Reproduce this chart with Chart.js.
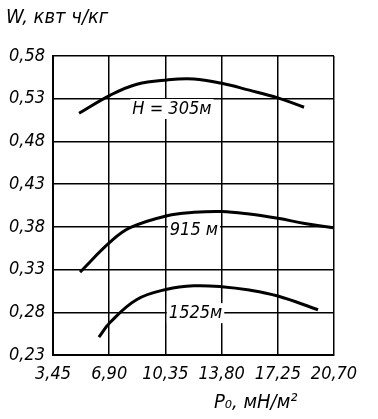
<!DOCTYPE html>
<html>
<head>
<meta charset="utf-8">
<script src="https://cdn.jsdelivr.net/npm/chart.js@4"></script>
<style>
	html, body { margin: 0; padding: 0; background: #fff; }
	#chart { display: block; }
</style>
</head>
<body>
<canvas id="chart" width="378" height="419"></canvas>
<script>
(() => {
	'use strict'

	// Tick labels
	const xTicks = [3.45, 6.90, 10.35, 13.80, 17.25, 20.70];
	const yTicks = [0.23, 0.28, 0.33, 0.38, 0.43, 0.48, 0.53, 0.58];

	// Curve H = 305 m
	const x305 = [5.05, 6.95, 8.6, 10.45, 12.1, 13.8, 15.5, 17.25, 18.86];
	const y305 = [0.513, 0.534, 0.547, 0.552, 0.553, 0.548, 0.540, 0.531, 0.520];

	// Curve 915 m
	const x915 = [5.11, 6.95, 8.18, 10.45, 12.1, 13.8, 15.5, 17.25, 18.9, 20.64];
	const y915 = [0.327, 0.362, 0.379, 0.393, 0.397, 0.398, 0.395, 0.390, 0.384, 0.379];

	// Curve 1525 m
	const x1525 = [6.27, 6.95, 8.6, 10.45, 12.1, 13.8, 15.5, 17.25, 19.72];
	const y1525 = [0.251, 0.268, 0.295, 0.307, 0.311, 0.310, 0.306, 0.299, 0.283];

	// Curve labels
	const curveLabels = ['H = 305м', '915 м', '1525м'];
	const labelX = [10.75, 12.1, 12.2];
	const labelY = [0.518, 0.376, 0.279];

	const fontFamily = '"DejaVu Sans Condensed", "DejaVu Sans", sans-serif';

	// Helper to zip x and y arrays into points
	function toPoints(xs, ys) {
		return xs.map((x, i) => ({ x: x, y: ys[i] }));
	}

	// Helper to print numbers with a decimal comma
	function comma(value) {
		return value.toFixed(2).replace('.', ',');
	}

	function lineSet(xs, ys) {
		return {
			data: toPoints(xs, ys),
			borderColor: '#000',
			borderWidth: 3,
			pointRadius: 0,
			fill: false,
			tension: 0.4,
		};
	}

	// Draws the axis titles and the labels on the curves
	const textPlugin = {
		id: 'texts',
		afterDatasetsDraw(chart) {
			const ctx = chart.ctx;
			const xs = chart.scales.x;
			const ys = chart.scales.y;
			ctx.save();
			ctx.fillStyle = '#000';
			ctx.textBaseline = 'middle';
			ctx.font = 'italic 18px ' + fontFamily;
			curveLabels.forEach((text, i) => {
				const px = xs.getPixelForValue(labelX[i]);
				const py = ys.getPixelForValue(labelY[i]);
				const w = ctx.measureText(text).width;
				ctx.fillStyle = '#fff';
				ctx.fillRect(px - w / 2 - 2, py - 10, w + 4, 20);
				ctx.fillStyle = '#000';
				ctx.textAlign = 'center';
				ctx.fillText(text, px, py);
			});
			ctx.textAlign = 'left';
			ctx.font = 'italic 20px ' + fontFamily;
			ctx.fillText('W, квт ч/кг', 6, 18);
			ctx.fillText('P₀, мН/м²', 214, 403);
			ctx.restore();
		}
	};

	const config = {
		type: 'line',
		data: {
			datasets: [lineSet(x305, y305), lineSet(x915, y915), lineSet(x1525, y1525)]
		},
		options: {
			responsive: false,
			animation: false,
			layout: {
				padding: { top: 56, right: 44, bottom: 0, left: 0 }
			},
			plugins: {
				legend: { display: false },
				title: { display: false },
				tooltip: { enabled: false }
			},
			scales: {
				x: {
					type: 'linear',
					min: xTicks[0],
					max: xTicks[xTicks.length - 1],
					afterBuildTicks: (scale) => {
						scale.ticks = xTicks.map((v) => ({ value: v }));
					},
					afterFit: (scale) => {
						scale.height = 64;
					},
					border: { display: true, color: '#000', width: 2 },
					grid: { color: '#000', lineWidth: 1.5, drawTicks: false },
					ticks: {
						color: '#000',
						padding: 9,
						maxRotation: 0,
						autoSkip: false,
						font: { family: fontFamily, size: 18, style: 'italic' },
						callback: (value) => comma(value)
					}
				},
				y: {
					type: 'linear',
					min: yTicks[0],
					max: yTicks[yTicks.length - 1],
					afterBuildTicks: (scale) => {
						scale.ticks = yTicks.map((v) => ({ value: v }));
					},
					afterFit: (scale) => {
						scale.width = 53;
					},
					border: { display: true, color: '#000', width: 2 },
					grid: { color: '#000', lineWidth: 1.5, drawTicks: false },
					ticks: {
						color: '#000',
						padding: 8,
						autoSkip: false,
						font: { family: fontFamily, size: 18, style: 'italic' },
						callback: (value) => comma(value)
					}
				}
			}
		},
		plugins: [textPlugin]
	};

	new Chart(document.getElementById('chart'), config);
})()
</script>
</body>
</html>
